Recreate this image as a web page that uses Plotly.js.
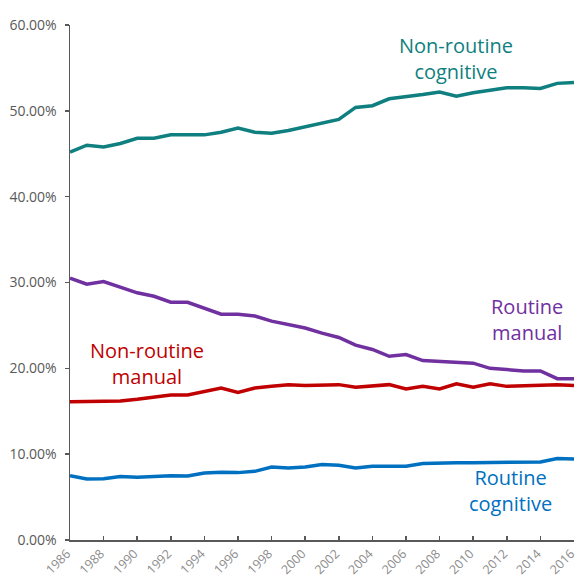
<!DOCTYPE html>
<html><head><meta charset="utf-8">
<script src="https://cdn.plot.ly/plotly-3.0.1.min.js"></script>
<style>html,body{margin:0;padding:0;background:#fff}#c{width:578px;height:579px}</style>
</head><body><div id="c"></div>
<script>
const years = [1986,1987,1988,1989,1990,1991,1992,1993,1994,1995,1996,1997,1998,1999,2000,2001,2002,2003,2004,2005,2006,2007,2008,2009,2010,2011,2012,2013,2014,2015,2016];
const nonRoutineCognitive = [45.2,46.0,45.8,46.2,46.8,46.8,47.2,47.2,47.2,47.5,48.0,47.5,47.4,47.7,48.1,48.5,49.0,50.4,50.6,51.4,51.6,51.9,52.2,51.7,52.1,52.4,52.7,52.7,52.6,53.2,53.3];
const routineManual = [30.5,29.8,30.1,29.5,28.8,28.4,27.7,27.7,27.0,26.3,26.3,26.1,25.5,25.1,24.7,24.1,23.6,22.7,22.2,21.4,21.6,20.9,20.8,20.7,20.6,20.0,19.8,19.7,19.7,18.8,18.8];
const nonRoutineManual = [16.1,16.1,16.1,16.2,16.4,16.7,16.9,16.9,17.3,17.7,17.2,17.7,17.9,18.1,18.0,18.1,18.1,17.8,18.0,18.1,17.6,17.9,17.6,18.2,17.8,18.2,17.9,18.0,18.1,18.1,18.0];
const routineCognitive = [7.5,7.1,7.15,7.4,7.3,7.4,7.5,7.45,7.8,7.9,7.85,8.0,8.5,8.4,8.5,8.8,8.7,8.4,8.6,8.6,8.6,8.9,9.0,9.0,9.0,9.0,9.1,9.1,9.1,9.5,9.45];
const seriesNames = ["Non-routine cognitive","Routine manual","Non-routine manual","Routine cognitive"];
const colors = ["#0f7f80","#7030a0","#c00000","#0070c0"];
const yTicks = [0,10,20,30,40,50,60];
const xTicks = [1986,1988,1990,1992,1994,1996,1998,2000,2002,2004,2006,2008,2010,2012,2014,2016];

const data = [nonRoutineCognitive, routineManual, nonRoutineManual, routineCognitive].map((v,i)=>({
  x: years, y: v, type:'scatter', mode:'lines', name: seriesNames[i],
  line:{color: colors[i], width:3.5}, hoverinfo:'skip'
}));

const fam = '"Open Sans", "DejaVu Sans", sans-serif';
const ann = (text, x, y, c) => ({text, x, y, xref:'x', yref:'y', showarrow:false,
  font:{family:fam, size:20, color:c}, align:'center'});

const layout = {
  width:578, height:579,
  margin:{l:70, r:4, t:25, b:39},
  paper_bgcolor:'#fff', plot_bgcolor:'#fff',
  showlegend:false,
  xaxis:{range:[1986,2016], tickvals:xTicks, ticktext:xTicks.map(String), tickangle:-45,
    showgrid:false, zeroline:false, showline:true, linecolor:'#595959', linewidth:1.5,
    ticks:'inside', ticklen:4, tickcolor:'#595959', tickwidth:1.5, ticklabeloverflow:'allow',
    ticklabelstandoff:0, ticklabelshift:-3,
    tickfont:{family:fam, size:12.5, color:'#8c8c8c'}, fixedrange:true},
  yaxis:{range:[0,60], tickvals:yTicks, ticktext:yTicks.map(v=>v.toFixed(2)+'%'),
    showgrid:false, zeroline:false, showline:true, linecolor:'#595959', linewidth:1.5,
    ticks:'outside', ticklen:4, tickcolor:'#595959', tickwidth:1.5, ticklabelstandoff:5,
    tickfont:{family:fam, size:14, color:'#595959'}, fixedrange:true},
  annotations:[
    ann('Non-routine<br>cognitive', 2009.0, 56.1, colors[0]),
    ann('Routine<br>manual', 2013.2, 25.7, colors[1]),
    ann('Non-routine<br>manual', 1990.6, 20.6, colors[2]),
    ann('Routine<br>cognitive', 2012.2, 5.8, colors[3])
  ]
};
Plotly.newPlot('c', data, layout, {displayModeBar:false, staticPlot:true});
</script></body></html>
